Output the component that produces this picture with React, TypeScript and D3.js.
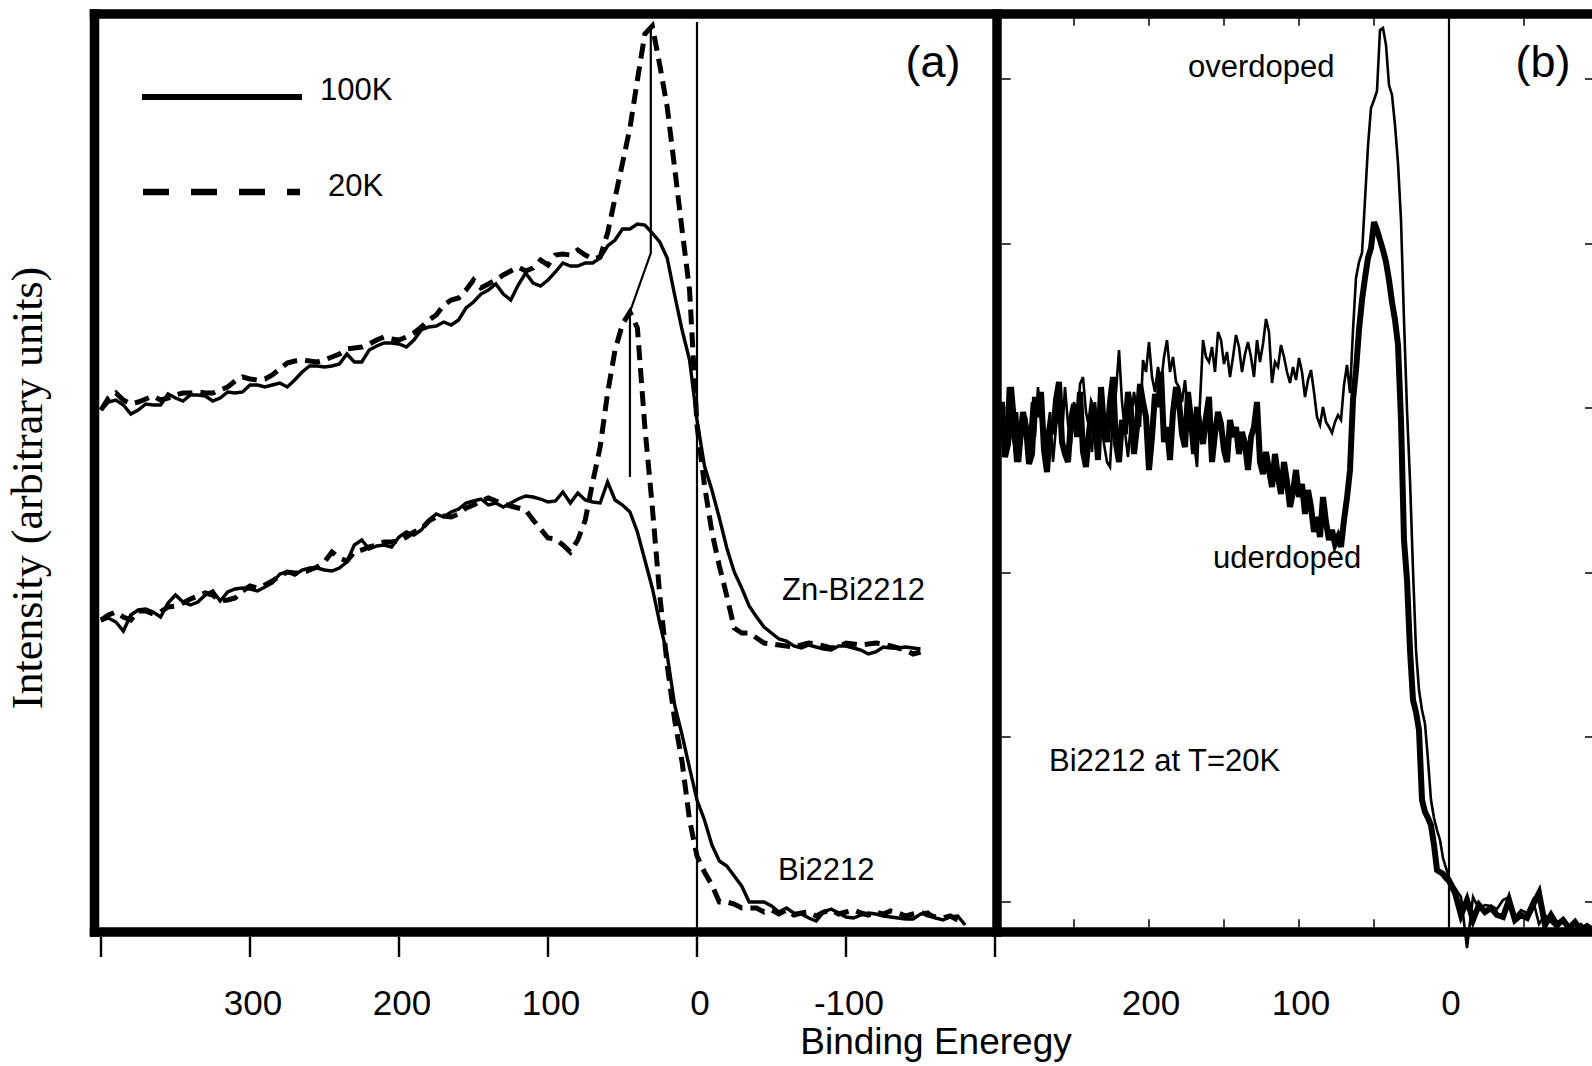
import React from 'react';
import * as d3 from 'd3';

const W = 1592;
const H = 1066;

// ---------- Panel (a): binding energy grid (meV) ----------
const energiesA = d3.range(400, -181, -5);

// Zn-Bi2212, 100K (solid)
const znHot = [
  522, 530, 532, 527, 518, 522, 528, 527, 527, 538,
  534, 531, 537, 537, 536, 531, 534, 540, 539, 540,
  547, 547, 545, 547, 549, 545, 552, 560, 566, 566,
  565, 566, 568, 578, 570, 570, 582, 586, 589, 589,
  588, 585, 592, 602, 605, 606, 610, 607, 612, 624,
  630, 638, 642, 648, 638, 632, 647, 659, 649, 646,
  652, 660, 669, 666, 666, 669, 669, 674, 686, 692,
  703, 703, 708, 707, 699, 690, 674, 637, 602, 572,
  512, 466, 442, 414, 384, 360, 344, 326, 315, 305,
  299, 293, 291, 286, 284, 287, 285, 283, 282, 286,
  286, 284, 282, 278, 280, 285, 284, 284, 285, 284,
  283,
];

// Zn-Bi2212, 20K (dashed)
const znCold = [
  522, 534, 539, 532, 528, 530, 533, 536, 532, 534,
  537, 539, 539, 540, 539, 539, 542, 545, 551, 555,
  553, 552, 553, 557, 563, 569, 571, 572, 571, 570,
  572, 575, 578, 583, 584, 585, 588, 592, 595, 593,
  592, 595, 599, 605, 612, 617, 627, 632, 634, 642,
  652, 644, 648, 652, 657, 661, 665, 661, 664, 672,
  667, 677, 678, 677, 682, 677, 673, 675, 699, 734,
  769, 804, 852, 898, 906, 867, 825, 764, 702, 642,
  507, 447, 400, 366, 336, 304, 299, 299, 294, 289,
  288, 287, 286, 285, 287, 289, 288, 286, 284, 285,
  289, 288, 287, 288, 289, 288, 286, 284, 282, 278,
  280,
];

// Bi2212, 100K (solid)
const biHot = [
  311, 314, 310, 301, 317, 322, 323, 320, 315, 329,
  337, 330, 327, 330, 337, 341, 331, 340, 343, 344,
  343, 341, 345, 349, 358, 360, 357, 362, 364, 364,
  362, 361, 364, 370, 387, 392, 383, 386, 387, 385,
  395, 400, 397, 402, 412, 418, 415, 420, 423, 429,
  431, 433, 427, 429, 425, 429, 433, 436, 435, 433,
  430, 431, 440, 429, 439, 432, 430, 429, 450, 432,
  427, 420, 400, 372, 344, 309, 277, 227, 197, 164,
  132, 112, 87, 71, 66, 56, 46, 30, 30, 30,
  26, 20, 24, 19, 18, 14, 11, 20, 23, 19,
  15, 14, 17, 19, 18, 16, 15, 14, 13, 13,
  18, 20, 14, 12, 15, 16, 7,
];

// Bi2212, 20K (dashed)
const biCold = [
  312, 317, 320, 315, 312, 321, 321, 318, 320, 325,
  326, 329, 333, 336, 339, 337, 331, 332, 334, 341,
  346, 344, 347, 351, 356, 360, 359, 359, 362, 365,
  370, 380, 374, 371, 380, 382, 385, 387, 390, 390,
  391, 395, 400, 403, 411, 415, 416, 415, 418, 424,
  427, 431, 434, 431, 428, 426, 424, 422, 412, 403,
  394, 393, 387, 380, 392, 412, 450, 485, 539, 582,
  608, 620, 604, 505, 425, 337, 267, 212, 170, 112,
  76, 60, 47, 30, 30, 28, 24, 24, 24, 20,
  22, 18, 22, 17, 19, 20, 16, 20, 22, 18,
  20, 22, 19, 17, 20, 18, 21, 19, 16, 18,
  20, 17, 15, 14, 16, 12,
];

// peak-position guide (energy, intensity)
const peakGuide: [number, number][] = [[31, 904], [31, 679], [45, 620], [45, 455]];

// ---------- Panel (b) ----------
const energiesB = [...d3.range(300, 0, -2), ...d3.range(0, -97, -4)];

const underdoped = [
  // 300 .. 72 (2 meV)
  498, 530, 475, 488, 545, 510, 470, 492, 520, 505,
  468, 478, 535, 515, 540, 482, 460, 505, 498, 532,
  550, 490, 478, 470, 512, 528, 495, 540, 480, 465,
  500, 525, 518, 472, 545, 505, 490, 530, 555, 488,
  470, 512, 498, 540, 520, 478, 505, 548, 530, 515,
  462, 495, 538, 525, 560, 490, 505, 472, 520, 545,
  530, 498, 485, 540, 512, 478, 525, 505, 488, 515,
  535, 470, 498, 520, 508, 482, 470, 512, 495, 505,
  478, 500, 488, 462, 495, 505, 530, 470, 458, 480,
  462, 445, 478, 455, 438, 470, 450, 425, 440, 462,
  435, 448, 418, 442, 425, 400, 415, 395, 435, 410,
  392, 402, 388, 395, 385,
  // 70 .. 2 (2 meV)
  412, 434, 462, 532, 562, 602, 632, 654, 674, 684,
  710, 702, 692, 682, 670, 652, 630, 612, 587, 512,
  392, 352, 282, 232, 220, 202, 132, 120, 114, 107,
  87, 62, 60, 58, 54,
  // 0 .. -96 (4 meV)
  51, 39, 17, 32, 12, 27, 20, 24, 17, 15,
  32, 12, 17, 14, 27, 39, 7, 17, 7, 12,
  4, 10, 2, 6, 2,
];

const overdoped = [
  // 300 .. 72 (2 meV)
  492, 510, 478, 545, 500, 488, 520, 470, 505, 515,
  488, 530, 495, 545, 512, 480, 498, 520, 470, 505,
  525, 495, 545, 508, 488, 530, 500, 548, 555, 520,
  505, 480, 530, 498, 512, 488, 470, 465, 520, 540,
  582, 530, 500, 475, 510, 540, 520, 505, 572, 560,
  590, 555, 540, 565, 548, 575, 592, 560, 575, 550,
  545, 530, 552, 520, 505, 490, 465, 530, 592, 575,
  570, 585, 560, 600, 592, 568, 580, 555, 575, 597,
  585, 560, 578, 590, 575, 555, 592, 570, 588, 613,
  600, 549, 570, 565, 587, 575, 560, 549, 565, 552,
  574, 560, 535, 552, 562, 540, 515, 507, 525, 510,
  505, 499, 510, 517, 512,
  // 70 .. 2 (2 meV)
  547, 567, 539, 602, 654, 670, 679, 732, 786, 824,
  832, 841, 902, 904, 887, 847, 837, 807, 769, 712,
  612, 522, 452, 362, 282, 242, 222, 208, 172, 132,
  114, 102, 92, 74, 64,
  // 0 .. -96 (4 meV)
  55, 44, 35, -16, 35, 23, 27, 26, 23, 32,
  35, 15, 22, 19, 32, 8, 17, 10, 4, 12,
  6, 2, 8, 2, 4,
];

// ---------- axes ----------
const ticksA = [400, 300, 200, 100, 0, -100, -200];
const labelsA = [300, 200, 100, 0, -100];
const minorTicksB = [250, 200, 150, 100, 50, 0, -50];
const labelsB = [200, 100, 0];
const yTicksB = [30, 195, 359, 524, 688, 853];

// layout
const TOP = 14;
const BOTTOM = 932;
const LEFT = 94.5;
const DIV = 997;
const FRAME = 9.5;

const xA = d3.scaleLinear().domain([400, -200]).range([101, 995]);
const xB = d3.scaleLinear().domain([300, -100]).range([999, 1599]);
const y = d3.scaleLinear().domain([0, 919]).range([932, 13]);

const sans = '"Liberation Sans", Arial, Helvetica, sans-serif';
const serif = '"Liberation Serif", "Times New Roman", serif';

function pairs(es: number[], vs: number[]): [number, number][] {
  return vs.map((v, i) => [es[i], v] as [number, number]);
}

export default function App() {
  const lineA = d3.line<[number, number]>().x((d) => xA(d[0])).y((d) => y(d[1]));
  const lineB = d3.line<[number, number]>().x((d) => xB(d[0])).y((d) => y(d[1]));

  const solidA = { fill: 'none', stroke: '#000', strokeWidth: 3.4 };
  const dashedA = { fill: 'none', stroke: '#000', strokeWidth: 5, strokeDasharray: '15 8' };

  return (
    <svg
      width={W}
      height={H}
      viewBox={`0 0 ${W} ${H}`}
      style={{ position: 'absolute', left: 0, top: 0, display: 'block', background: '#fff' }}
    >
      <rect x={0} y={0} width={W} height={H} fill="#fff" />

      {/* panel (a) curves */}
      <path d={lineA(pairs(energiesA, znHot)) || ''} {...solidA} />
      <path d={lineA(pairs(energiesA, znCold)) || ''} {...dashedA} />
      <path d={lineA(pairs(energiesA, biHot)) || ''} {...solidA} />
      <path d={lineA(pairs(energiesA, biCold)) || ''} {...dashedA} />
      <path d={lineA(peakGuide) || ''} fill="none" stroke="#000" strokeWidth={2.2} />
      <line x1={xA(0)} x2={xA(0)} y1={y(910)} y2={y(0)} stroke="#000" strokeWidth={2.2} />

      {/* panel (b) curves */}
      <line x1={xB(0)} x2={xB(0)} y1={y(919)} y2={y(0)} stroke="#000" strokeWidth={2.2} />
      <path d={lineB(pairs(energiesB, underdoped)) || ''} fill="none" stroke="#000" strokeWidth={6} />
      <path d={lineB(pairs(energiesB, overdoped)) || ''} fill="none" stroke="#000" strokeWidth={2.6} />

      {/* panel (b) inner ticks */}
      {minorTicksB.map((t) => (
        <g key={'mb' + t}>
          <line x1={xB(t)} x2={xB(t)} y1={TOP + FRAME / 2} y2={TOP + FRAME / 2 + 7} stroke="#000" strokeWidth={1.5} />
          <line x1={xB(t)} x2={xB(t)} y1={BOTTOM - FRAME / 2} y2={BOTTOM - FRAME / 2 - 8} stroke="#000" strokeWidth={1.5} />
        </g>
      ))}
      {yTicksB.map((t) => (
        <g key={'yb' + t}>
          <line x1={DIV + FRAME / 2} x2={DIV + FRAME / 2 + 9} y1={y(t)} y2={y(t)} stroke="#000" strokeWidth={1.5} />
          <line x1={1585} x2={1594} y1={y(t)} y2={y(t)} stroke="#000" strokeWidth={1.5} />
        </g>
      ))}

      {/* frame */}
      <line x1={LEFT - FRAME / 2} x2={W + 10} y1={TOP} y2={TOP} stroke="#000" strokeWidth={FRAME} />
      <line x1={LEFT - FRAME / 2} x2={W + 10} y1={BOTTOM} y2={BOTTOM} stroke="#000" strokeWidth={FRAME} />
      <line x1={LEFT} x2={LEFT} y1={TOP - FRAME / 2} y2={BOTTOM + FRAME / 2} stroke="#000" strokeWidth={FRAME} />
      <line x1={DIV} x2={DIV} y1={TOP - FRAME / 2} y2={BOTTOM + FRAME / 2} stroke="#000" strokeWidth={FRAME} />

      {/* panel (a) outer ticks + labels */}
      {ticksA.map((t) => (
        <line key={'ta' + t} x1={xA(t)} x2={xA(t)} y1={BOTTOM + FRAME / 2} y2={957} stroke="#000" strokeWidth={2.4} />
      ))}
      {labelsA.map((t) => (
        <text key={'la' + t} x={xA(t) + 3} y={1015} textAnchor="middle" fontFamily={sans} fontSize={35}>
          {t}
        </text>
      ))}
      {labelsB.map((t) => (
        <text key={'lb' + t} x={xB(t) + 2} y={1015} textAnchor="middle" fontFamily={sans} fontSize={35}>
          {t}
        </text>
      ))}
      <text x={936} y={1054} textAnchor="middle" fontFamily={sans} fontSize={37}>
        Binding Eneregy
      </text>
      <text
        transform="translate(42,488) rotate(-90)"
        textAnchor="middle"
        fontFamily={serif}
        fontSize={44}
      >
        Intensity (arbitrary units)
      </text>

      {/* legend */}
      <line x1={142} x2={302} y1={97} y2={97} stroke="#000" strokeWidth={6} />
      <text x={320} y={100} fontFamily={sans} fontSize={31}>100K</text>
      <line x1={143} x2={300} y1={192} y2={192} stroke="#000" strokeWidth={6.5} strokeDasharray="26 22" />
      <text x={328} y={196} fontFamily={sans} fontSize={31}>20K</text>

      {/* annotations */}
      <text x={933} y={77} textAnchor="middle" fontFamily={sans} fontSize={45}>(a)</text>
      <text x={1543} y={77} textAnchor="middle" fontFamily={sans} fontSize={45}>(b)</text>
      <text x={782} y={600} fontFamily={sans} fontSize={31}>Zn-Bi2212</text>
      <text x={778} y={880} fontFamily={sans} fontSize={31}>Bi2212</text>
      <text x={1188} y={77} fontFamily={sans} fontSize={31}>overdoped</text>
      <text x={1213} y={568} fontFamily={sans} fontSize={31}>uderdoped</text>
      <text x={1049} y={771} fontFamily={sans} fontSize={31}>Bi2212 at T=20K</text>
    </svg>
  );
}
